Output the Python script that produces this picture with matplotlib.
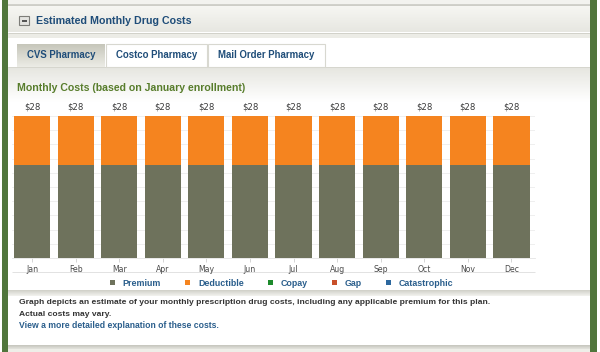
import matplotlib
matplotlib.use('Agg')
import matplotlib.pyplot as plt
import numpy as np
from matplotlib.patches import Rectangle
import matplotlib.colors as mcolors

plt.rcParams['font.family'] = ['Liberation Sans', 'DejaVu Sans']

# ---------------- data ----------------
months = ['Jan', 'Feb', 'Mar', 'Apr', 'May', 'Jun', 'Jul', 'Aug', 'Sep', 'Oct', 'Nov', 'Dec']
premium = [18.3, 18.3, 18.3, 18.3, 18.3, 18.3, 18.3, 18.3, 18.3, 18.3, 18.3, 18.3]
deductible = [9.7, 9.7, 9.7, 9.7, 9.7, 9.7, 9.7, 9.7, 9.7, 9.7, 9.7, 9.7]
copay = [0, 0, 0, 0, 0, 0, 0, 0, 0, 0, 0, 0]
gap = [0, 0, 0, 0, 0, 0, 0, 0, 0, 0, 0, 0]
catastrophic = [0, 0, 0, 0, 0, 0, 0, 0, 0, 0, 0, 0]
series_names = ['Premium', 'Deductible', 'Copay', 'Gap', 'Catastrophic']
tabs = ['CVS Pharmacy', 'Costco Pharmacy', 'Mail Order Pharmacy']

# ---------------- styles ----------------
series_colors = ['#6e725c', '#f5841f', '#1d8a2c', '#c8502a', '#2d689e']
BLUE = '#1f4d79'
LINK = '#2a5e8c'
GREEN_TXT = '#587d2c'
BORDER_GREEN = '#50763c'
SMALL_FONT = ['DejaVu Sans']

W, H = 600, 352
fig = plt.figure(figsize=(W / 100, H / 100), dpi=100)
fig.patch.set_facecolor('white')
r = fig.canvas.get_renderer()

bg = fig.add_axes([0, 0, 1, 1])
bg.axis('off')


def rect(x0, y0, x1, y1, color, z=1, **kw):
    bg.add_patch(Rectangle((x0, y0), x1 - x0, y1 - y0, facecolor=color, edgecolor='none', zorder=z, **kw))


def grad(x0, x1, y0, y1, ctop, cbot, z=1):
    a = np.array(mcolors.to_rgb(ctop))
    b = np.array(mcolors.to_rgb(cbot))
    t = np.linspace(0, 1, 64)[:, None, None]
    img = a[None, None, :] * (1 - t) + b[None, None, :] * t
    bg.imshow(img, extent=(x0, x1, y1, y0), aspect='auto', interpolation='bilinear', zorder=z)


def hline(y, x0, x1, color, lw=1.0, z=3):
    bg.plot([x0, x1], [y, y], color=color, lw=lw * 0.72, zorder=z, solid_capstyle='butt')


def ftext(x, y, s, width, **kw):
    t = bg.text(x, y, s, fontsize=10, **kw)
    w = t.get_window_extent(renderer=r).width
    t.set_fontsize(10 * width / w)
    return t


# page frame
rect(8, 0, 590, 4, '#f3f3ef')
hline(4.5, 8, 590, '#c2c2ba', 1.5)
grad(8, 590, 5, 32, '#f7f7f3', '#e7e7e1')
hline(32.5, 8, 590, '#d2d2ca', 1)
rect(8, 33, 590, 38, '#ecece6')
rect(8, 38, 590, 66, '#ffffff')
hline(66.5, 8, 590, '#d6d6ce', 1)
grad(8, 590, 67, 102, '#e6e6e0', '#ffffff')
rect(8, 102, 590, 291, '#ffffff')
grad(8, 590, 290, 296, '#cfcfc7', '#f4f4f0', z=2)
rect(8, 296, 590, 345, '#ffffff')
grad(8, 590, 345, 349, '#c4c4bc', '#e4e4de', z=2)
rect(8, 349, 590, 352, '#eeeee8')

# green side borders
rect(2, 0, 8, 352, BORDER_GREEN, z=5)
rect(590, 0, 597, 352, BORDER_GREEN, z=5)

# minus icon and header
bg.add_patch(Rectangle((19, 16), 10, 9, facecolor='#e4e4e0', edgecolor='#7d7d78', lw=0.8, zorder=4))
hline(20.5, 21.5, 26.5, '#333333', 1.6, z=5)
ftext(36, 21, 'Estimated Monthly Drug Costs', 155, color=BLUE, fontweight='bold',
      ha='left', va='center', zorder=6)

# tabs
tab_x = [(17, 105), (106, 207), (208, 325)]
tab_w = [68, 81, 97]
for i, (name, (x0, x1), tw) in enumerate(zip(tabs, tab_x, tab_w)):
    if i == 0:
        grad(x0, x1, 44, 67, '#c6c6ba', '#ecece6', z=3)
    else:
        bg.add_patch(Rectangle((x0, 44), x1 - x0, 22.5, facecolor='white', edgecolor='#d8d8d0',
                               lw=0.8, zorder=3))
    ftext((x0 + x1) / 2, 55.5, name, tw, color=BLUE, fontweight='bold', ha='center',
          va='center', zorder=6)

ftext(17, 88, 'Monthly Costs (based on January enrollment)', 229, color=GREEN_TXT,
      fontweight='bold', ha='left', va='center', zorder=6)

# chart container lines
hline(271.5, 12, 535, '#e2e2e2', 1)

# bottom text
t1 = ftext(19, 303, 'Graph depicts an estimate of your monthly prescription drug costs, including any applicable premium for this plan.',
           464, color='#333333', fontweight='bold', ha='left', va='center', zorder=6)
bg.text(19, 314, 'Actual costs may vary.', color='#333333', fontweight='bold', ha='left',
        va='center', zorder=6, fontsize=t1.get_fontsize())
ftext(19, 325, 'View a more detailed explanation of these costs.', 198, color=LINK,
      fontweight='bold', ha='left', va='center', zorder=6)

bg.set_xlim(0, W)
bg.set_ylim(H, 0)

# ---------------- chart ----------------
left, right, top, base = 12, 535, 100, 258
ax = fig.add_axes([left / W, (H - base) / H, (right - left) / W, (base - top) / H])
ax.set_facecolor('none')
x = np.arange(len(months))
bottoms = np.zeros(len(months))
containers = []
for name, vals, col in zip(series_names, [premium, deductible, copay, gap, catastrophic], series_colors):
    c = ax.bar(x, vals, width=0.83, bottom=bottoms, color=col, label=name, zorder=3)
    containers.append(c)
    bottoms = bottoms + np.array(vals)

totals = bottoms
ax.bar_label(containers[-1], labels=[f'${v:.0f}' for v in totals], padding=3.5, fontsize=6.1,
             color='#3a3a3a', family=SMALL_FONT)

ax.set_xlim(-0.46, 11.54)
ax.set_ylim(0, 31.15)
ymax = totals.max()
ax.set_yticks(np.linspace(0, ymax, 11))
ax.grid(axis='y', color='#ececec', lw=0.6, zorder=0)
ax.tick_params(axis='y', length=0, labelleft=False)
ax.set_xticks(x)
ax.set_xticklabels(months, family=SMALL_FONT)
ax.tick_params(axis='x', length=3, color='#cfcfcf', width=0.6, labelsize=5.6, labelcolor='#4a4a4a', pad=2)
for s in ['top', 'right', 'left']:
    ax.spines[s].set_visible(False)
ax.spines['bottom'].set_color('#e4e4e4')
ax.spines['bottom'].set_linewidth(0.6)

# legend
handles, labels = ax.get_legend_handles_labels()
leg = fig.legend(handles, labels, loc='center', bbox_to_anchor=(281.5 / W, (H - 283) / H), ncol=5,
                 frameon=False, prop={'weight': 'bold', 'size': 6.4}, handlelength=0.56,
                 handleheight=0.56, handletextpad=0.9, columnspacing=2.7, borderpad=0)
for t in leg.get_texts():
    t.set_color(LINK)

fig.savefig('out.png', dpi=100)
